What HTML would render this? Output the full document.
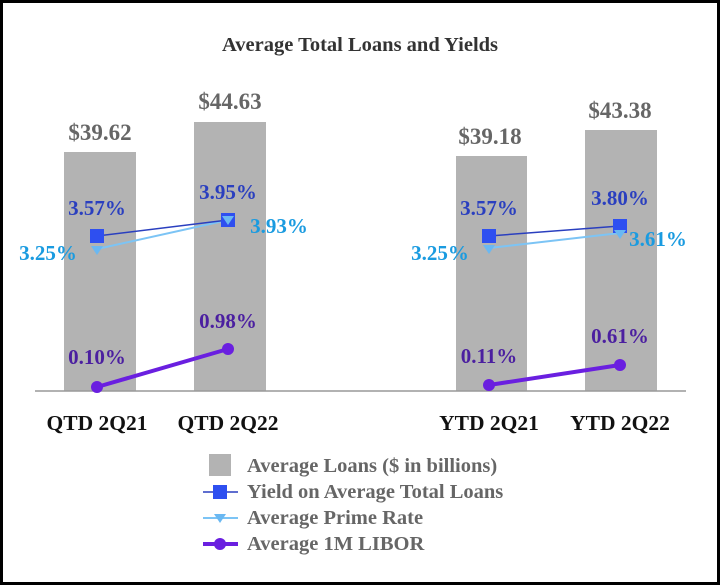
<!DOCTYPE html>
<html><head><meta charset="utf-8"><style>
body{margin:0;background:#fff}
svg{display:block}
text{font-family:"Liberation Serif",serif;font-weight:bold}
</style></head><body>
<svg width="720" height="586" viewBox="0 0 720 586">
<rect x="1.5" y="1.5" width="717" height="582" fill="#fff" stroke="#000" stroke-width="3"/>
<text x="360" y="51" font-size="20.5" fill="#333" text-anchor="middle">Average Total Loans and Yields</text>
<g fill="#b3b3b3">
<rect x="64" y="152" width="72" height="239"/>
<rect x="194" y="122" width="72" height="269"/>
<rect x="456" y="156" width="71" height="235"/>
<rect x="585" y="130" width="72" height="261"/>
</g>
<line x1="35" y1="391" x2="686" y2="391" stroke="#999" stroke-width="1.5"/>
<g font-size="23" fill="#666" text-anchor="middle">
<text x="100" y="140">$39.62</text><text x="230" y="109">$44.63</text>
<text x="490" y="144">$39.18</text><text x="620" y="118">$43.38</text>
</g>
<g font-size="21.5" fill="#111" text-anchor="middle">
<text x="97" y="430">QTD 2Q21</text><text x="228" y="430">QTD 2Q22</text>
<text x="489" y="430">YTD 2Q21</text><text x="620" y="430">YTD 2Q22</text>
</g>
<g stroke="#7cc4f5" stroke-width="2">
<line x1="97" y1="249" x2="228" y2="220"/><line x1="489" y1="248" x2="620" y2="233"/>
</g>
<g stroke="#2a3fbf" stroke-width="1.5">
<line x1="97" y1="236" x2="228" y2="220"/><line x1="489" y1="236" x2="620" y2="226"/>
</g>
<g fill="#2e4ff0">
<rect x="90" y="229" width="14" height="14"/><rect x="221" y="213" width="14" height="14"/>
<rect x="482" y="229" width="14" height="14"/><rect x="613" y="219" width="14" height="14"/>
</g>
<g fill="#6ab8f2">
<polygon points="91,246 103,246 97,255"/><polygon points="222,216 234,216 228,225"/>
<polygon points="483,245 495,245 489,254"/><polygon points="614,230 626,230 620,239"/>
</g>
<g stroke="#6a1fe0" stroke-width="4">
<line x1="97" y1="387" x2="228" y2="349"/><line x1="489" y1="385" x2="620" y2="365"/>
</g>
<g fill="#6a1fe0">
<circle cx="97" cy="387" r="6"/><circle cx="228" cy="349" r="6"/>
<circle cx="489" cy="385" r="6"/><circle cx="620" cy="365" r="6"/>
</g>
<g font-size="21" fill="#2a3fbf" text-anchor="middle">
<text x="97" y="215">3.57%</text><text x="228" y="199">3.95%</text>
<text x="489" y="215">3.57%</text><text x="620" y="205">3.80%</text>
</g>
<g font-size="21" fill="#1a9be0" text-anchor="middle">
<text x="48" y="260">3.25%</text><text x="279" y="233">3.93%</text>
<text x="440" y="260">3.25%</text><text x="658" y="246">3.61%</text>
</g>
<g font-size="21" fill="#4b1fa0" text-anchor="middle">
<text x="97" y="364">0.10%</text><text x="228" y="328">0.98%</text>
<text x="489" y="363">0.11%</text><text x="620" y="343">0.61%</text>
</g>
<rect x="209" y="454" width="22" height="22" fill="#b3b3b3"/>
<line x1="203" y1="492" x2="238" y2="492" stroke="#2a3fbf" stroke-width="1.5"/>
<rect x="213" y="485" width="14" height="14" fill="#2e4ff0"/>
<line x1="203" y1="518" x2="238" y2="518" stroke="#7cc4f5" stroke-width="2"/>
<polygon points="214,514 226,514 220,523" fill="#6ab8f2"/>
<line x1="203" y1="544" x2="238" y2="544" stroke="#6a1fe0" stroke-width="4"/>
<circle cx="220" cy="544" r="6" fill="#6a1fe0"/>
<g font-size="20.5" fill="#666">
<text x="247" y="472">Average Loans ($ in billions)</text>
<text x="247" y="498">Yield on Average Total Loans</text>
<text x="247" y="524">Average Prime Rate</text>
<text x="247" y="550">Average 1M LIBOR</text>
</g>
</svg>
</body></html>
